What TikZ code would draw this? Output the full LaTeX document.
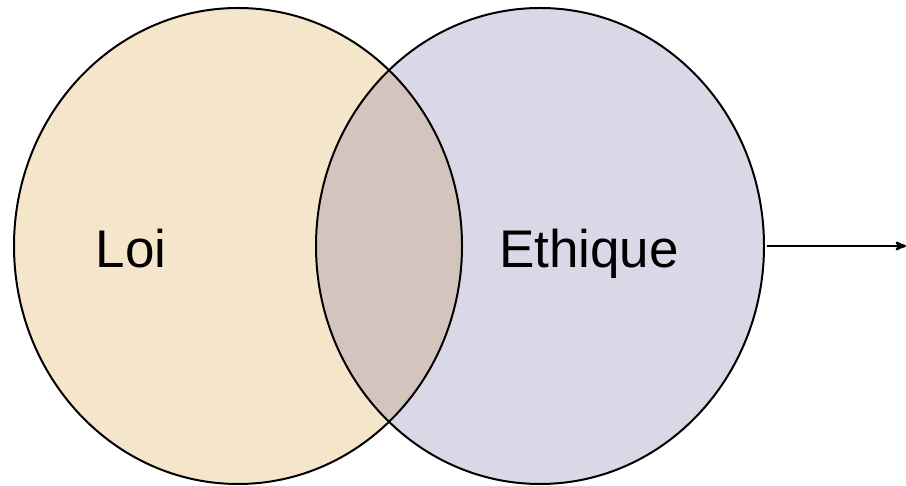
\documentclass[tikz,border=0pt]{standalone}
\usepackage{fontspec}
\setmainfont{Liberation Sans}
\usetikzlibrary{shapes.geometric}
\usetikzlibrary{arrows}
\definecolor{loifill}{HTML}{F5E6CB}
\definecolor{ethfill}{HTML}{DAD8E7}
\definecolor{bothfill}{HTML}{D3C5BD}
\tikzset{
    every set/.style={
        ellipse,
        line width=2pt,
        minimum width=448pt,
        minimum height=476pt,
        inner sep=0pt},
    set/.style={every set},
    label text/.style={
        font=\fontsize{53}{60}\selectfont,
        inner sep=0pt},
    out arrow/.style={
        draw,
        ->,>=stealth',
        line width=2.4pt}}

\begin{document}
\begin{tikzpicture}[x=1pt,y=1pt]
        \useasboundingbox (0,0) rectangle (906,486);
        \node[set,fill=loifill] (loi) at (238,240) {};
        \node[set,fill=ethfill] (ethique) at (540,240) {};
        \begin{scope}
            \clip (238,240) ellipse (224 and 238);
            \fill[bothfill] (540,240) ellipse (224 and 238);
        \end{scope}
        \node[set,draw] at (loi) {};
        \node[set,draw] at (ethique) {};

        \node[label text,anchor=base] (loitext) at (131,218) {Loi};
        \node[label text,anchor=base] (ethtext) at (589,218) {Ethique};

        \coordinate (out) at (906,240);
        \draw[out arrow] ([xshift=2pt]ethique.east) -- (out);
    \end{tikzpicture}
\end{document}
